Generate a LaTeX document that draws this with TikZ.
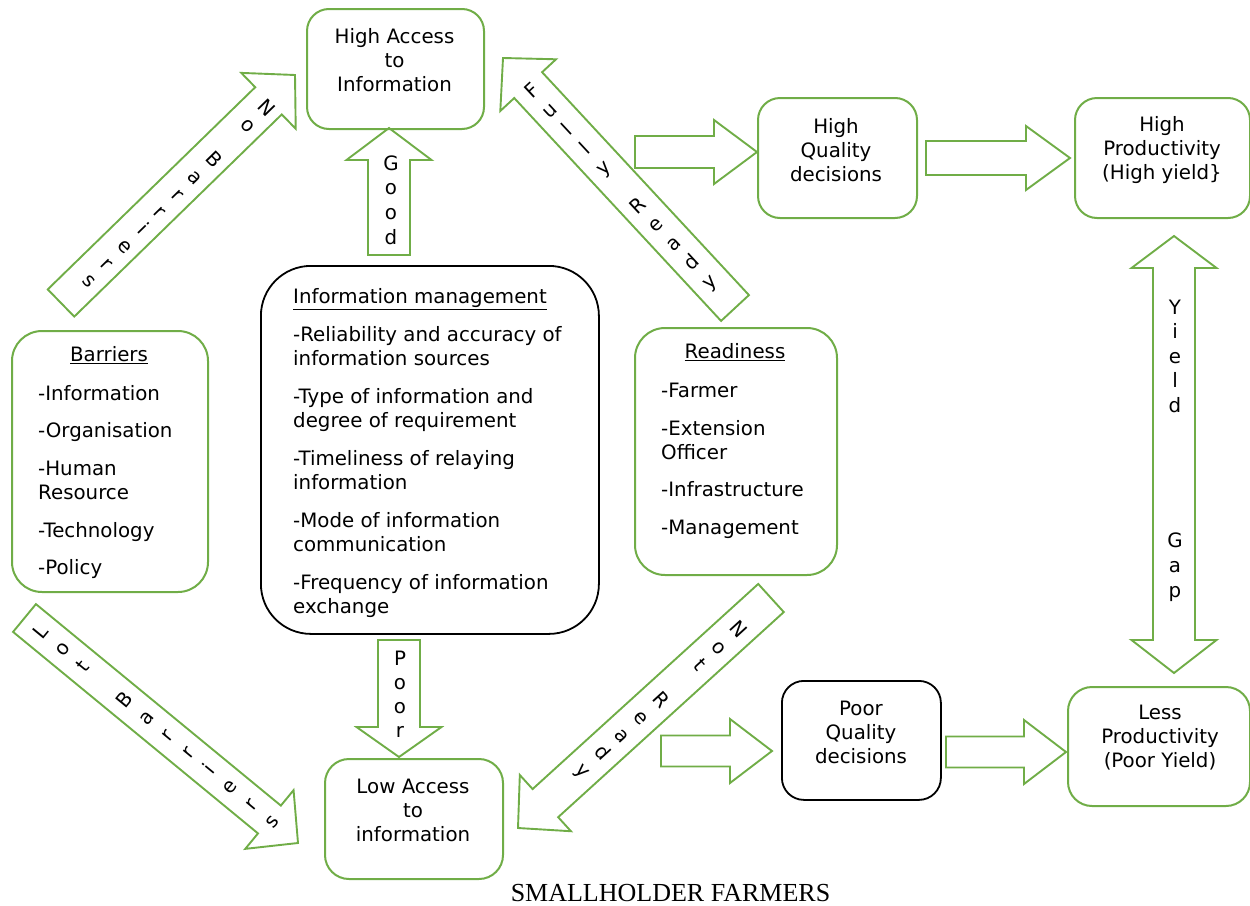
\documentclass[tikz,border=0pt]{standalone}
\usepackage{fontspec}
\setmainfont{DejaVu Sans}
\newfontfamily\titlefont{Liberation Serif}
\usetikzlibrary{calc}
\definecolor{ogreen}{RGB}{112,173,71}
% block arrow: #1 tail, #2 tip, #3 half shaft, #4 half head, #5 head length
\newcommand\blockarrow[5]{%
  \coordinate (#2-hb) at ($(#2)!#5!(#1)$);
  \draw[arrowshape] ($(#1)!#3!90:(#2)$) -- ($(#2-hb)!#3!-90:(#1)$) -- ($(#2-hb)!#4!-90:(#1)$) -- (#2)
     -- ($(#2-hb)!#4!90:(#1)$) -- ($(#2-hb)!#3!90:(#1)$) -- ($(#1)!#3!-90:(#2)$) -- cycle;}
\begin{document}
\begin{tikzpicture}[x=1pt,y=-1pt,
  gbox/.style={draw=ogreen, line width=2pt, inner sep=0pt, anchor=north west},
  kbox/.style={draw=black, line width=1.8pt, inner sep=0pt, anchor=north west},
  arrowshape/.style={draw=ogreen, line width=1.9pt, line join=miter},
  txt/.style={font=\fontsize{19.8}{24}\selectfont, inner sep=0pt, align=center},
  lst/.style={font=\fontsize{19.8}{24}\selectfont, inner sep=0pt, align=left, anchor=north west},
  stk/.style={inner sep=0pt, align=center},
]
\useasboundingbox (0,0) rectangle (1250,905);

% boxes
\node[gbox, rounded corners=22pt, minimum width=177pt, minimum height=120pt] (hiacc) at (306,8) {};
\node[gbox, rounded corners=22pt, minimum width=159pt, minimum height=120pt] (hiqual) at (757,97) {};
\node[gbox, rounded corners=22pt, minimum width=175pt, minimum height=120pt] (hiprod) at (1074,97) {};
\node[gbox, rounded corners=30pt, minimum width=196pt, minimum height=261pt] (barr) at (11,330) {};
\node[kbox, rounded corners=50pt, minimum width=338pt, minimum height=368pt] (info) at (260,265) {};
\node[gbox, rounded corners=30pt, minimum width=202pt, minimum height=247pt] (ready) at (634,327) {};
\node[gbox, rounded corners=24pt, minimum width=178pt, minimum height=120pt] (lowacc) at (324,758) {};
\node[kbox, rounded corners=22pt, minimum width=159pt, minimum height=119pt] (poorq) at (781,680) {};
\node[gbox, rounded corners=24pt, minimum width=182pt, minimum height=119pt] (lessp) at (1067,686) {};

% box texts
\node[txt] (hiacc-t) at (394.5,60) {High Access\\to\\Information};
\node[txt] (hiqual-t) at (836,150) {High\\Quality\\decisions};
\node[txt] (hiprod-t) at (1162,150) {High\\Productivity\\(High yield\}};
\node[txt] (lowacc-t) at (413,810) {Low Access\\to\\information};
\node[txt] (poorq-t) at (861,732) {Poor\\Quality\\decisions};
\node[txt] (lessp-t) at (1160,738) {Less\\Productivity\\(Poor Yield)};

\node[lst] (info-t) at (293,286) {\rule{0pt}{17pt}\underline{Information management}\\[14pt]
-Reliability and accuracy of\\information sources\\[14pt]
-Type of information and\\degree of requirement\\[14pt]
-Timeliness of relaying\\information\\[14pt]
-Mode of information\\communication\\[14pt]
-Frequency of information\\exchange};

\node[txt] (barr-h) at (109,355) {\underline{Barriers}};
\node[lst] (barr-t) at (38,383) {\rule{0pt}{17pt}-Information\\[13pt]
-Organisation\\[14pt]
-Human\\Resource\\[14pt]
-Technology\\[13pt]
-Policy};

\node[txt] (ready-h) at (735,352) {\underline{Readiness}};
\node[lst] (ready-t) at (661,380) {\rule{0pt}{17pt}-Farmer\\[14pt]
-Extension\\Officer\\[13pt]
-Infrastructure\\[14pt]
-Management};

% arrow end points
\coordinate (good-tail) at (389,255);  \coordinate (good-tip) at (389,128);
\coordinate (poor-tail) at (399,640);  \coordinate (poor-tip) at (399,757);
\coordinate (nb-tail) at (61,303);     \coordinate (nb-tip) at (295,75);
\coordinate (fr-tail) at (735,308);    \coordinate (fr-tip) at (503,58);
\coordinate (lb-tail) at (24.5,618);   \coordinate (lb-tip) at (298,843);
\coordinate (nr-tail) at (771,598);    \coordinate (nr-tip) at (518,828);
\coordinate (a1-tail) at (635,152);    \coordinate (a1-tip) at (757,152);
\coordinate (a2-tail) at (926,158);    \coordinate (a2-tip) at (1070,158);
\coordinate (a3-tail) at (661,751);    \coordinate (a3-tip) at (772,751);
\coordinate (a4-tail) at (946,752);    \coordinate (a4-tip) at (1066,752);
\coordinate (yg-top) at (1174,236);    \coordinate (yg-bot) at (1174,673);

\blockarrow{good-tail}{good-tip}{21pt}{42.5pt}{32pt}
\blockarrow{poor-tail}{poor-tip}{21pt}{42.5pt}{30pt}
\blockarrow{nb-tail}{nb-tip}{19pt}{39pt}{37pt}
\blockarrow{fr-tail}{fr-tip}{19pt}{38pt}{37pt}
\blockarrow{lb-tail}{lb-tip}{18pt}{38pt}{37pt}
\blockarrow{nr-tail}{nr-tip}{19pt}{38pt}{37pt}
\blockarrow{a1-tail}{a1-tip}{16pt}{32pt}{43pt}
\blockarrow{a2-tail}{a2-tip}{17pt}{32pt}{44pt}
\blockarrow{a3-tail}{a3-tip}{15.5pt}{32pt}{42pt}
\blockarrow{a4-tail}{a4-tip}{15.5pt}{32pt}{42pt}

\draw[arrowshape] (yg-top) -- ++(42.5,32) -- ++(-21.5,0) -- ++(0,372) -- ++(21.5,0) -- (yg-bot)
  -- ++(-42.5,-33) -- ++(21.5,0) -- ++(0,-372) -- ++(-21.5,0) -- cycle;

% arrow labels
\node[stk, font=\fontsize{19.8}{24.7}\selectfont] (good-l) at (391,200) {G\\o\\o\\d};
\node[stk, font=\fontsize{19.8}{24}\selectfont] (poor-l) at (400,694) {P\\o\\o\\r};
\node[stk, font=\fontsize{19.8}{24.5}\selectfont] (yield-l) at (1175,356) {Y\\i\\e\\l\\d};
\node[stk, font=\fontsize{19.8}{25}\selectfont] (gap-l) at (1175,567) {G\\a\\p};
\node[stk, rotate=-45.7, font=\fontsize{19.8}{24.7}\selectfont] (nb-l) at (178.5,194) {N\\o\\~\\B\\a\\r\\r\\i\\e\\r\\s};
\node[stk, rotate=42.9, font=\fontsize{19.8}{26}\selectfont] (fr-l) at (621.5,187.5) {F\\u\\l\\l\\y\\~\\R\\e\\a\\d\\y};
\node[stk, rotate=50.6, font=\fontsize{19.8}{27.1}\selectfont] (lb-l) at (156,726) {L\\o\\t\\~\\B\\a\\r\\r\\i\\e\\r\\s};
\node[stk, rotate=-47.7, font=\fontsize{19.8}{26.2}\selectfont] (nr-l) at (660,701) {N\\o\\t\\~\\R\\e\\a\\d\\y};

% caption
\node[inner sep=0pt, anchor=base, font=\titlefont\fontsize{26}{30}\selectfont] (caption) at (670.5,901) {SMALLHOLDER FARMERS};
\end{tikzpicture}
\end{document}
